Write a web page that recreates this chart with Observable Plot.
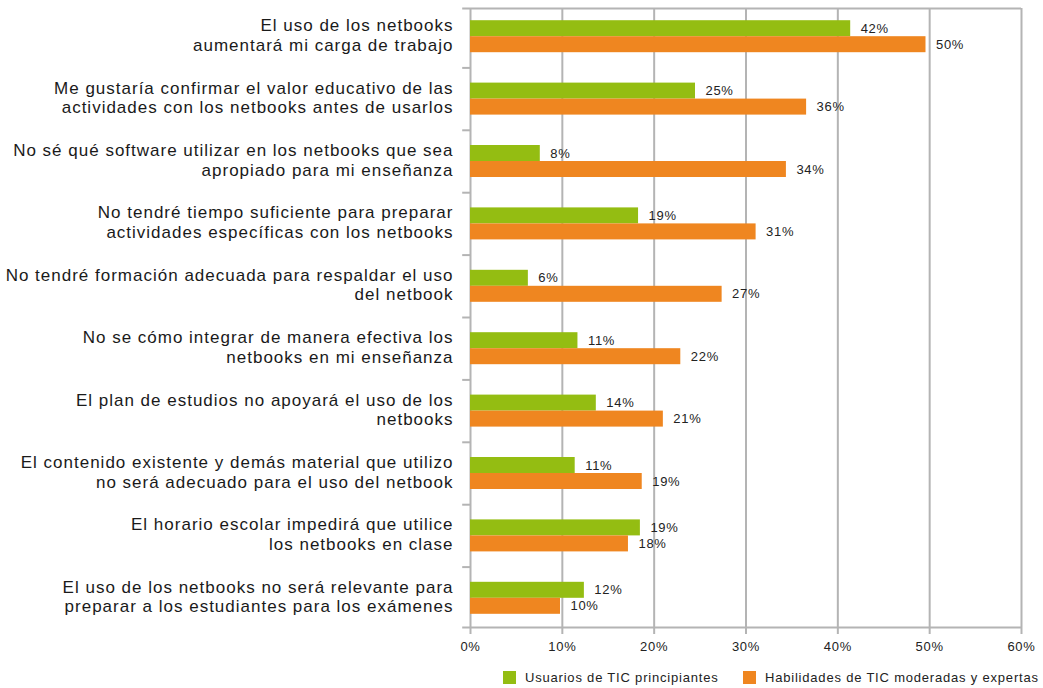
<!DOCTYPE html>
<html>
<head>
<meta charset="utf-8">
<script src="https://cdn.jsdelivr.net/npm/d3@7"></script>
<script src="https://cdn.jsdelivr.net/npm/@observablehq/plot@0.6"></script>
<style>
  html, body { margin: 0; padding: 0; background: #fff; }
  body { font-family: "Liberation Sans", Arial, sans-serif; color: #222; }
  #chart svg text { letter-spacing: 0.7px; }
  #chart svg g[aria-label="y-axis tick label"] text { letter-spacing: 1.0px; }
  #legend { position: relative; width: 1043px; height: 28px; font-size: 13px; letter-spacing: 0.8px; }
  .item { position: absolute; top: 10px; display: flex; align-items: center; }
  .sw { width: 13px; height: 13px; margin-right: 9px; }
</style>
</head>
<body>
<div id="chart"></div>
<div id="legend"></div>
<script>
const categories = [
  "El uso de los netbooks\naumentará mi carga de trabajo",
  "Me gustaría confirmar el valor educativo de las\nactividades con los netbooks antes de usarlos",
  "No sé qué software utilizar en los netbooks que sea\napropiado para mi enseñanza",
  "No tendré tiempo suficiente para preparar\nactividades específicas con los netbooks",
  "No tendré formación adecuada para respaldar el uso\ndel netbook",
  "No se cómo integrar de manera efectiva los\nnetbooks en mi enseñanza",
  "El plan de estudios no apoyará el uso de los\nnetbooks",
  "El contenido existente y demás material que utilizo\nno será adecuado para el uso del netbook",
  "El horario escolar impedirá que utilice\nlos netbooks en clase",
  "El uso de los netbooks no será relevante para\npreparar a los estudiantes para los exámenes"
];
const seriesNames = ["Usuarios de TIC principiantes", "Habilidades de TIC moderadas y expertas"];
const greenValues  = [41.4, 24.5, 7.6, 18.3, 6.3, 11.7, 13.7, 11.4, 18.5, 12.4];
const orangeValues = [49.6, 36.6, 34.4, 31.1, 27.4, 22.9, 21.0, 18.7, 17.2, 9.8];
const greenLabels  = ["42%","25%","8%","19%","6%","11%","14%","11%","19%","12%"];
const orangeLabels = ["50%","36%","34%","31%","27%","22%","21%","19%","18%","10%"];
const xTicks = [0, 10, 20, 30, 40, 50, 60];
const colors = ["#94bd12", "#ef8620"];

const W = 1043, H = 660, mL = 470, mR = 22, mT = 8, mB = 33;
const yRange = [5, 629];
const step = (yRange[1] - yRange[0]) / categories.length;
const barH = 16;
const grid = "#b4b4b4";
const topDy = mT - (yRange[0] + step / 2);
const botDy = (H - mB) - (yRange[1] - step / 2);

const green = categories.map((c, i) => ({cat: c, v: greenValues[i], label: greenLabels[i]}));
const orange = categories.map((c, i) => ({cat: c, v: orangeValues[i], label: orangeLabels[i]}));

const chart = Plot.plot({
  width: W, height: H,
  marginLeft: mL, marginRight: mR, marginTop: mT, marginBottom: mB,
  style: {fontFamily: '"Liberation Sans", Arial, sans-serif', color: "#222", background: "#fff"},
  x: {domain: [0, 60], axis: null, label: null},
  y: {domain: categories, padding: 0, round: false, range: yRange, axis: null, label: null},
  marks: [
    Plot.ruleX(xTicks, {stroke: grid, strokeWidth: 2}),
    Plot.ruleY([categories[0]], {y: d => d, x1: -0.85, x2: 60, dy: topDy, stroke: grid, strokeWidth: 2}),
    Plot.ruleY(categories.slice(1), {y: d => d, x1: -0.85, x2: 0, dy: -step / 2, stroke: grid, strokeWidth: 2}),
    Plot.ruleY([categories[categories.length - 1]], {y: d => d, x1: -0.85, x2: 60, dy: botDy, stroke: grid, strokeWidth: 2}),
    Plot.axisX({ticks: xTicks, tickFormat: d => d + "%", tickSize: 7, tickPadding: 7, stroke: grid, strokeWidth: 2, fill: "#222", fontSize: 13, anchor: "bottom", label: null}),
    Plot.barX(green, {y: "cat", x: "v", fill: colors[0], insetTop: step / 2 - barH, insetBottom: step / 2}),
    Plot.barX(orange, {y: "cat", x: "v", fill: colors[1], insetTop: step / 2, insetBottom: step / 2 - barH}),
    Plot.text(green, {y: "cat", x: "v", text: "label", dx: 10, dy: -barH / 2, textAnchor: "start", fontSize: 13, fill: "#222"}),
    Plot.text(orange, {y: "cat", x: "v", text: "label", dx: 10, dy: barH / 2, textAnchor: "start", fontSize: 13, fill: "#222"}),
    Plot.axisY({tickSize: 0, tickPadding: 17, dy: -2, fontSize: 17, lineHeight: 1.15, fill: "#1a1a1a", anchor: "left", label: null})
  ]
});
document.getElementById("chart").appendChild(chart);

const legend = document.getElementById("legend");
const lefts = [503, 743];
seriesNames.forEach((name, i) => {
  const it = document.createElement("div");
  it.className = "item";
  it.style.left = lefts[i] + "px";
  const sw = document.createElement("div");
  sw.className = "sw";
  sw.style.background = colors[i];
  const t = document.createElement("span");
  t.textContent = name;
  it.appendChild(sw);
  it.appendChild(t);
  legend.appendChild(it);
});
</script>
</body>
</html>
